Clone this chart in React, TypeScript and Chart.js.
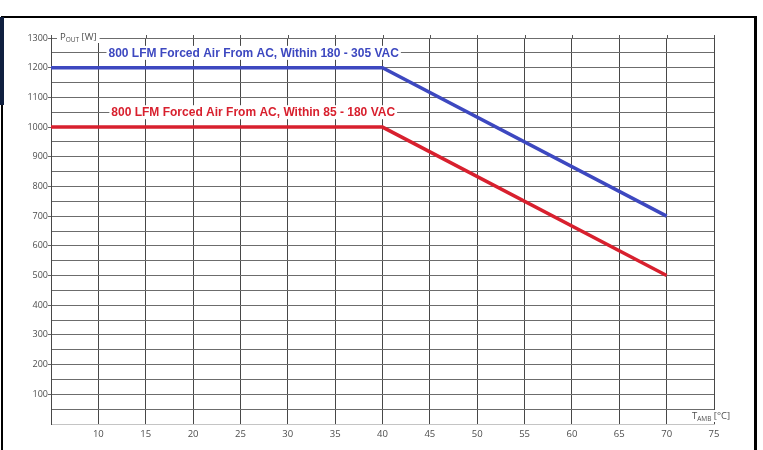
import React, { useEffect, useRef } from "react";
import { Chart, registerables } from "chart.js";

Chart.register(...registerables);

// ---- data ----
const temperatures = [5, 40, 70];
const powerHighLine = [1200, 1200, 700];
const powerLowLine = [1000, 1000, 500];

const highLabel = "800 LFM Forced Air From AC, Within 180 - 305 VAC";
const lowLabel = "800 LFM Forced Air From AC, Within 85 - 180 VAC";
// label anchors in data units (centre x, y)
const highLabelAt = [26.4, 1250];
const lowLabelAt = [26.35, 1050];

const xMin = 5;
const xMax = 75;
const xStep = 5;
const yMin = 0;
const yMax = 1300;
const yStep = 50;

const BLUE = "#3d48c0";
const RED = "#d8202e";
const TICK_COLOR = "#4d4d4d";
const TICK_FONT = "'Open Sans', 'Liberation Sans', sans-serif";

function drawSubscriptTitle(
  ctx: CanvasRenderingContext2D,
  main: string,
  sub: string,
  rest: string,
  left: number,
  mid: number
) {
  const bigFont = `9.5px ${TICK_FONT}`;
  const smallFont = `6.5px ${TICK_FONT}`;
  ctx.font = bigFont;
  const w1 = ctx.measureText(main).width;
  const w3 = ctx.measureText(rest).width;
  ctx.font = smallFont;
  const w2 = ctx.measureText(sub).width;
  const total = w1 + w2 + w3;
  ctx.fillStyle = "#fff";
  ctx.fillRect(left - 3, mid - 6, total + 6, 12);
  ctx.fillStyle = TICK_COLOR;
  ctx.textAlign = "left";
  ctx.textBaseline = "alphabetic";
  ctx.font = bigFont;
  ctx.fillText(main, left, mid + 3);
  ctx.font = smallFont;
  ctx.fillText(sub, left + w1, mid + 4.5);
  ctx.font = bigFont;
  ctx.fillText(rest, left + w1 + w2, mid + 3);
}

const overlayPlugin = {
  id: "overlayText",
  afterDatasetsDraw(chart: any) {
    const { ctx, chartArea, scales } = chart;
    const xs = scales.x;
    const ys = scales.y;
    ctx.save();
    // short extensions of vertical grid lines above the top edge
    ctx.strokeStyle = "#555";
    ctx.lineWidth = 1;
    xs.ticks.forEach((t: any) => {
      const px = Math.round(xs.getPixelForValue(t.value)) + 0.5;
      ctx.beginPath();
      ctx.moveTo(px, chartArea.top - 3);
      ctx.lineTo(px, chartArea.top);
      ctx.stroke();
    });
    ctx.font = "bold 12px 'Liberation Sans', Arial, sans-serif";
    ctx.textAlign = "center";
    ctx.textBaseline = "middle";
    const items = [
      { text: highLabel, at: highLabelAt, color: BLUE },
      { text: lowLabel, at: lowLabelAt, color: RED },
    ];
    items.forEach((it) => {
      const px = xs.getPixelForValue(it.at[0]);
      const py = ys.getPixelForValue(it.at[1]);
      const w = ctx.measureText(it.text).width;
      ctx.fillStyle = "#fff";
      ctx.fillRect(px - w / 2 - 2, py - 7, w + 4, 14);
      ctx.fillStyle = it.color;
      ctx.fillText(it.text, px, py + 0.5);
    });
    // axis titles
    drawSubscriptTitle(ctx, "P", "OUT", " [W]", chartArea.left + 9, chartArea.top - 1);
    drawSubscriptTitle(ctx, "T", "AMB", " [°C]", chartArea.right - 22, chartArea.bottom - 8);
    ctx.restore();
  },
};

export default function App() {
  const canvasRef = useRef<HTMLCanvasElement | null>(null);

  useEffect(() => {
    const canvas = canvasRef.current;
    if (!canvas) return;
    const chart = new Chart(canvas, {
      type: "line",
      data: {
        datasets: [
          {
            label: highLabel,
            data: temperatures.map((t, i) => ({ x: t, y: powerHighLine[i] })),
            borderColor: BLUE,
            borderWidth: 3.5,
            pointRadius: 0,
            fill: false,
            tension: 0,
          },
          {
            label: lowLabel,
            data: temperatures.map((t, i) => ({ x: t, y: powerLowLine[i] })),
            borderColor: RED,
            borderWidth: 3.5,
            pointRadius: 0,
            fill: false,
            tension: 0,
          },
        ],
      },
      options: {
        animation: false,
        responsive: true,
        maintainAspectRatio: false,
        layout: { padding: { top: 38, right: 49, bottom: 0, left: 0 } },
        plugins: {
          legend: { display: false },
          tooltip: { enabled: false },
          title: { display: false },
        },
        scales: {
          x: {
            type: "linear",
            min: xMin,
            max: xMax,
            afterFit: (scale: any) => {
              scale.height = 26;
            },
            ticks: {
              stepSize: xStep,
              autoSkip: false,
              maxRotation: 0,
              padding: 5,
              color: TICK_COLOR,
              font: { family: TICK_FONT, size: 9.5 },
              callback: (v: any) => (v === xMin ? "" : String(v)),
            },
            grid: {
              drawTicks: false,
              color: "#474747",
              lineWidth: 1,
            },
            border: { display: true, color: "#c4c4c4", width: 1 },
          },
          y: {
            type: "linear",
            min: yMin,
            max: yMax,
            afterFit: (scale: any) => {
              scale.width = 51;
            },
            ticks: {
              stepSize: yStep,
              autoSkip: false,
              padding: 0,
              color: TICK_COLOR,
              font: { family: TICK_FONT, size: 9 },
              callback: (v: any) => (v % 100 === 0 && v !== 0 ? String(v) : ""),
            },
            grid: {
              drawTicks: true,
              tickLength: 3,
              color: (c: any) => (c.tick && c.tick.value === 0 ? "#c4c4c4" : "#6c6c6c"),
              tickColor: (c: any) =>
                c.tick && c.tick.value % 100 === 0 && c.tick.value !== 0 ? "#666" : "rgba(0,0,0,0)",
              lineWidth: 1,
            },
            border: { display: true, color: "#474747", width: 1 },
          },
        },
      },
      plugins: [overlayPlugin],
    });
    return () => chart.destroy();
  }, []);

  return (
    <div style={{ position: "absolute", left: 0, top: 0, width: 763, height: 450, background: "#fff", overflow: "hidden" }}>
      <div style={{ position: "absolute", left: 0, top: 0, width: 763, height: 450 }}>
        <canvas ref={canvasRef} />
      </div>
      <div
        style={{
          position: "absolute",
          left: 1,
          top: 16,
          width: 756,
          height: 460,
          boxSizing: "border-box",
          borderTop: "2px solid #000",
          borderLeft: "2px solid #000",
          borderRight: "3px solid #000",
          pointerEvents: "none",
        }}
      />
      <div
        style={{
          position: "absolute",
          left: 0,
          top: 17,
          width: 4,
          height: 88,
          background: "#0f1f3f",
          pointerEvents: "none",
        }}
      />
    </div>
  );
}
